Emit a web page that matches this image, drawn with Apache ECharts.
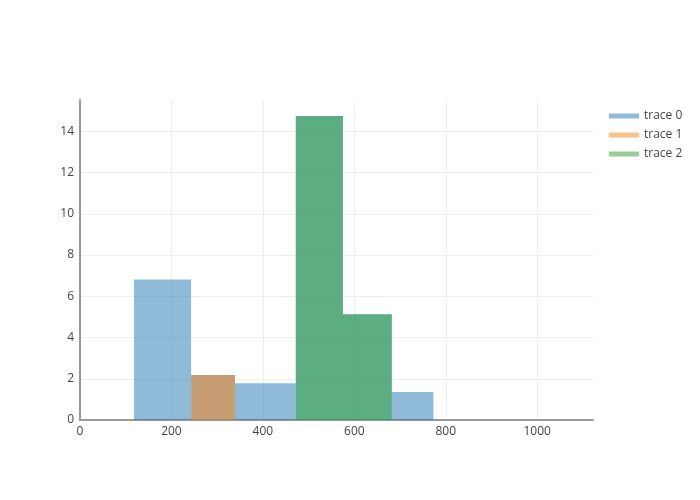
<!DOCTYPE html>
<html>
<head>
<meta charset="utf-8">
<script src="https://cdn.jsdelivr.net/npm/echarts@6/dist/echarts.min.js"></script>
<style>html,body{margin:0;padding:0;background:#fff}#c{width:700px;height:500px}</style>
</head>
<body>
<div id="c"></div>
<script>
// Bin edges and heights
const trace0Edges = [118, 243, 339, 472, 575, 682, 773];
const trace0Values = [6.82, 2.18, 1.78, 14.74, 5.13, 1.36];
const trace1Edges = [243, 339];
const trace1Values = [2.18];
const trace2Edges = [472, 575, 682];
const trace2Values = [14.74, 5.13];
const seriesNames = ['trace 0', 'trace 1', 'trace 2'];
const seriesColors = ['rgba(31,119,180,0.5)', 'rgba(255,127,14,0.5)', 'rgba(44,160,44,0.5)'];
const xTicks = [0, 200, 400, 600, 800, 1000];
const yTicks = [0, 2, 4, 6, 8, 10, 12, 14];

function toBins(edges, values) {
  return values.map((v, i) => [edges[i], edges[i + 1], v]);
}

function renderBar(params, api) {
  const x0 = api.value(0), x1 = api.value(1), h = api.value(2);
  const p0 = api.coord([x0, h]);
  const p1 = api.coord([x1, 0]);
  return {
    type: 'rect',
    shape: { x: p0[0], y: p0[1], width: p1[0] - p0[0], height: p1[1] - p0[1] },
    style: api.style()
  };
}

const allBins = [toBins(trace0Edges, trace0Values), toBins(trace1Edges, trace1Values), toBins(trace2Edges, trace2Values)];

const chart = echarts.init(document.getElementById('c'), null, { renderer: 'canvas' });
const font = '"Open Sans", "Noto Sans", sans-serif';
chart.setOption({
  animation: false,
  backgroundColor: '#fff',
  textStyle: { fontFamily: font },
  grid: { left: 80, right: 107, top: 100, bottom: 80, containLabel: false },
  legend: {
    left: 604, top: 105, orient: 'vertical',
    icon: 'rect', itemWidth: 30, itemHeight: 5, itemGap: 7,
    textStyle: { fontFamily: font, fontSize: 12, color: '#444' },
    data: seriesNames
  },
  xAxis: {
    type: 'value', min: 0, max: 1122, interval: 200,
    axisLine: { show: true, lineStyle: { color: '#999', width: 2 } },
    axisTick: { show: false },
    axisLabel: { color: '#444', fontSize: 12, fontFamily: font, margin: 6, showMaxLabel: false,
      formatter: v => (xTicks.indexOf(v) >= 0 ? String(v) : '') },
    splitLine: { show: true, showMaxLine: false, lineStyle: { color: '#eee', width: 1 } }
  },
  yAxis: {
    type: 'value', min: 0, max: 15.52, interval: 2,
    axisLine: { show: true, lineStyle: { color: '#999', width: 2 } },
    axisTick: { show: false },
    axisLabel: { color: '#444', fontSize: 12, fontFamily: font, margin: 6, showMaxLabel: false,
      formatter: v => (yTicks.indexOf(v) >= 0 ? String(v) : '') },
    splitLine: { show: true, showMaxLine: false, lineStyle: { color: '#eee', width: 1 } }
  },
  series: seriesNames.map((name, i) => ({
    name: name,
    type: 'custom',
    renderItem: renderBar,
    itemStyle: { color: seriesColors[i] },
    encode: { x: [0, 1], y: 2 },
    data: allBins[i],
    z: i + 2
  }))
});
</script>
</body>
</html>
